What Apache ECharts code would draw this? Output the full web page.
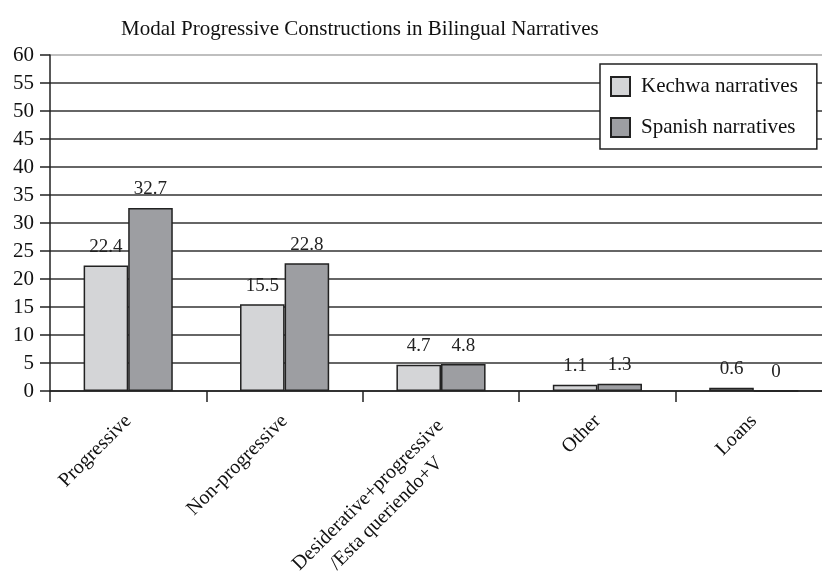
<!DOCTYPE html>
<html><head><meta charset="utf-8">
<script src="https://cdn.jsdelivr.net/npm/echarts@6/dist/echarts.min.js"></script>
<style>html,body{margin:0;padding:0;background:#fff}#c{width:822px;height:572px}</style>
</head><body><div id="c"></div>
<script>
const categories = ['Progressive', 'Non-progressive', 'Desiderative+progressive\n/Esta queriendo+V', 'Other', 'Loans'];
const kechwa = [22.4, 15.5, 4.7, 1.1, 0.6];
const spanish = [32.7, 22.8, 4.8, 1.3, 0];
const seriesNames = ['Kechwa narratives', 'Spanish narratives'];
const titleText = 'Modal Progressive Constructions in Bilingual Narratives';

const serif = '"Liberation Serif", "DejaVu Serif", serif';
const chart = echarts.init(document.getElementById('c'));
const lineColors = [];
for (let i = 0; i < 12; i++) lineColors.push('#333');
lineColors.push('#aaa');
const labelCfg = {show: true, position: 'top', distance: 9, fontFamily: serif, fontSize: 19, color: '#222'};
function catFormatter(v) {
  if (v.indexOf('\n') < 0) return v;
  const parts = v.split('\n');
  return '{b| }\n' + parts.map(p => '{c|' + p + '}').join('\n');
}
chart.setOption({
  animation: false,
  title: {text: titleText, left: 116, top: 14, textStyle: {fontFamily: serif, fontSize: 21, fontWeight: 'normal', color: '#111'}},
  legend: {
    orient: 'vertical', left: 600, top: 64,
    padding: [12, 19, 11, 10], itemGap: 20,
    backgroundColor: '#fff', borderColor: '#222', borderWidth: 1.5,
    itemWidth: 19, itemHeight: 19,
    textStyle: {fontFamily: serif, fontSize: 21, color: '#111', padding: [0, 0, 0, 6]},
    data: seriesNames.map(n => ({name: n, icon: 'rect'}))
  },
  grid: {left: 50, width: 782, top: 55, bottom: 181, containLabel: false, outerBoundsMode: 'none'},
  xAxis: {
    type: 'category', data: categories,
    axisLine: {lineStyle: {color: '#222', width: 1.5}},
    axisTick: {show: true, length: 11, lineStyle: {color: '#222', width: 1.5}},
    axisLabel: {
      rotate: 45, fontFamily: serif, fontSize: 20, color: '#111', margin: 27, interval: 0,
      formatter: catFormatter,
      rich: {
        b: {fontFamily: serif, fontSize: 20, width: 212, lineHeight: 32},
        c: {fontFamily: serif, fontSize: 20, color: '#111', width: 212, align: 'center', lineHeight: 26}
      }
    }
  },
  yAxis: {
    type: 'value', min: 0, max: 60, interval: 5,
    axisLine: {show: true, lineStyle: {color: '#222', width: 1.5}},
    axisTick: {show: true, length: 10, lineStyle: {color: '#222', width: 1.5}},
    axisLabel: {fontFamily: serif, fontSize: 21, color: '#111', margin: 16},
    splitLine: {show: true, lineStyle: {color: lineColors, width: 1.5}}
  },
  series: [
    {name: seriesNames[0], type: 'bar', data: kechwa, barGap: '0%', barCategoryGap: '43%',
     itemStyle: {color: '#d4d5d7', borderColor: '#222', borderWidth: 1.5}, label: labelCfg},
    {name: seriesNames[1], type: 'bar', data: spanish,
     itemStyle: {color: '#9d9ea2', borderColor: '#222', borderWidth: 1.5}, label: labelCfg}
  ]
});
</script></body></html>
